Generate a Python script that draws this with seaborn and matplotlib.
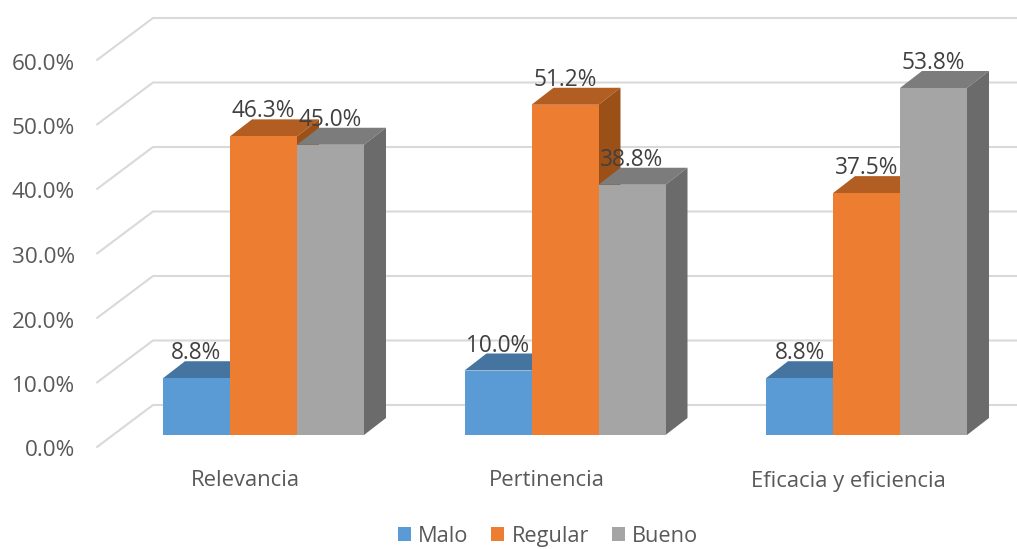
import matplotlib
matplotlib.use("Agg")
import matplotlib.pyplot as plt
import matplotlib.transforms as mtrans
from matplotlib.patches import Polygon, Patch
import pandas as pd
import seaborn as sns

categories = ["Relevancia", "Pertinencia", "Eficacia y eficiencia"]
series_names = ["Malo", "Regular", "Bueno"]
malo = [8.8, 10.0, 8.8]
regular = [46.3, 51.2, 37.5]
bueno = [45.0, 38.8, 53.8]
y_ticks = [0, 10, 20, 30, 40, 50, 60]

front_colors = ["#5B9BD5", "#ED7D31", "#A5A5A5"]
top_colors = ["#44749F", "#B25E22", "#7C7C7C"]
side_colors = ["#3B6591", "#9B5018", "#6B6B6B"]

W, H = 1017, 549
sns.set_theme(style="white")
plt.rcParams["font.family"] = ["Open Sans", "DejaVu Sans"]

df = pd.DataFrame({
    "cat": categories * 3,
    "serie": [s for s in series_names for _ in categories],
    "valor": malo + regular + bueno,
})

fig = plt.figure(figsize=(W / 100, H / 100), dpi=100, facecolor="white")
# axes: left 97 px, right edge of figure, value 0 at y=435 px, value 60 at y=48 px
ax = fig.add_axes([97 / W, (H - 435) / H, (W - 97) / W, (435 - 48) / H])

sns.barplot(data=df, x="cat", y="valor", hue="serie", order=categories,
            hue_order=series_names, palette=front_colors, width=2 / 3,
            saturation=1, gap=0, legend=False, ax=ax, linewidth=0, zorder=5)

px_x = 301.5
px_y = 387 / 60
ax.set_xlim((97 - 263.5) / px_x, (W - 263.5) / px_x)
ax.set_ylim(0, 60)

# depth of a bar, expressed in data units
dx = 22 / px_x
dy = 17 / px_y

# back wall and left wall gridlines
x_left = ax.get_xlim()[0]
x_back = x_left + 56 / px_x
x_right = ax.get_xlim()[1]
front_off = -12 / px_y
back_off = 30 / px_y
for v in y_ticks:
    ax.plot([x_left, x_back, x_right],
            [v + front_off, v + back_off, v + back_off],
            color="#D9D9D9", lw=1.5, clip_on=False, zorder=1,
            solid_joinstyle="miter")

# 3D faces of each bar, and data labels
bars = [p for c in ax.containers for p in c]
for i, bar in enumerate(bars):
    s = i // 3
    x0, w, h = bar.get_x(), bar.get_width(), bar.get_height()
    x1 = x0 + w
    z = 5 + x0 * 3
    bar.set_zorder(z + 0.2)
    ax.add_patch(Polygon([(x0, h), (x1, h), (x1 + dx, h + dy), (x0 + dx, h + dy)],
                         closed=True, fc=top_colors[s], ec="none", clip_on=False, zorder=z))
    ax.add_patch(Polygon([(x1, 0), (x1 + dx, dy), (x1 + dx, h + dy), (x1, h)],
                         closed=True, fc=side_colors[s], ec="none", clip_on=False, zorder=z + 0.1))
    ax.annotate(f"{h:.1f}%", (x0 + w / 2, h), xytext=(0, 25 * 0.72),
                textcoords="offset points", ha="center", va="center",
                fontsize=16.3, color="#404040", zorder=50, annotation_clip=False)

sns.despine(ax=ax, left=True, bottom=True)
ax.set_xlabel("")
ax.set_ylabel("")
ax.set_yticks(y_ticks)
ax.set_yticklabels([f"{v:.1f}%" for v in y_ticks], fontsize=16.2, color="#595959")
ax.set_xticks(range(len(categories)))
ax.set_xticklabels(categories, fontsize=15.8, color="#595959")
ax.tick_params(axis="y", length=0, pad=22 * 0.72)
ax.tick_params(axis="x", length=0, pad=35.5 * 0.72)
ax.patch.set_alpha(0)
ax.grid(False)

off_y = mtrans.ScaledTranslation(0, -13.5 / 100, fig.dpi_scale_trans)
for lab in ax.get_yticklabels():
    lab.set_transform(lab.get_transform() + off_y)
off_x = mtrans.ScaledTranslation(-18.5 / 100, 0, fig.dpi_scale_trans)
for lab in ax.get_xticklabels():
    lab.set_transform(lab.get_transform() + off_x)

handles = [Patch(fc=c, ec="none", label=n) for c, n in zip(front_colors, series_names)]
fig.legend(handles=handles, loc="center", bbox_to_anchor=(548 / W, (H - 536.5) / H),
           ncol=3, frameon=False, fontsize=15.7, labelcolor="#595959",
           handlelength=0.6, handleheight=0.6, handletextpad=0.32, columnspacing=1.05,
           borderpad=0, borderaxespad=0)

fig.savefig("out.png", dpi=100)
